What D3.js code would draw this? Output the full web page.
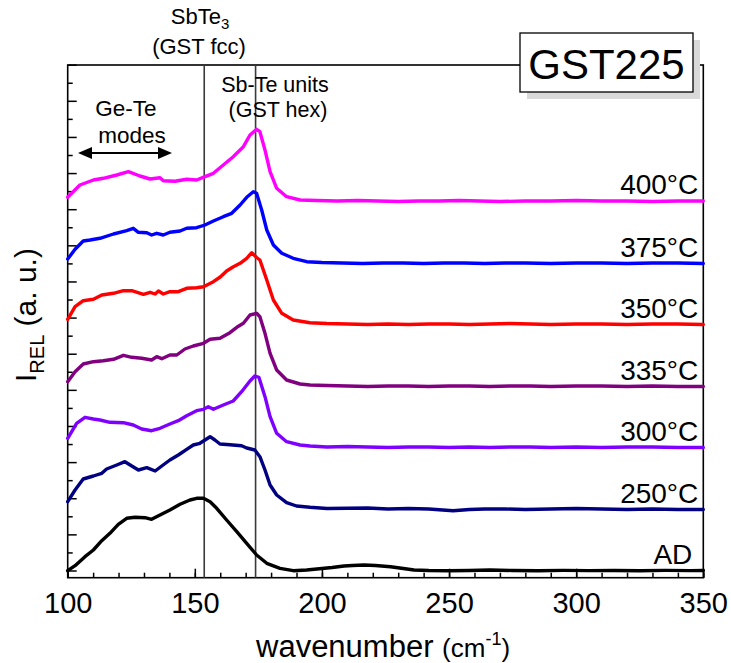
<!DOCTYPE html>
<html><head><meta charset="utf-8">
<script src="https://cdn.jsdelivr.net/npm/d3@7"></script>
<style>body{margin:0;background:#fff}svg{display:block;font-family:"Liberation Sans",Arial,sans-serif}</style>
</head><body><svg id="c" width="731" height="663"></svg>
<script>
// ---- data (relative Raman intensity, arbitrary units, offset per spectrum) ----
const seriesLabels = ["AD","250°C","300°C","335°C","350°C","375°C","400°C"];

const wnAD = [100,102.9,106.8,110.1,113.4,116.6,119.9,123.2,126.5,130.4,133,136.3,140.2,144.2,148.1,150.7,153.4,156,158.6,162.5,166.5,170.4,174.3,178.3,183.5,188.7,194,200,204,208.7,212,216.6,221,227,232,236.2,242,250,258,266,275,285,295,305,315,325,335,345,350];
const iAD  = [0.3,5.3,14.3,21,30.3,37.7,46.7,52.7,53.7,53.3,51.7,56,61,66.7,71,72.7,72.7,69.3,62.7,51,39.3,27.7,16,7.7,2.7,0.3,1,2.5,3.5,5,5.5,6,5.5,4.3,2.5,1,0.5,0.3,0.5,1,0.5,0.3,0.6,0.4,0.5,0.3,0.6,0.4,0.5];

const wn250 = [100,102.9,106.1,110.1,113.4,115.3,119.3,122.5,125.2,127.8,131.1,134.4,137,140.2,143.5,146.8,149.4,152,154,156,157.9,159.9,163.8,168.4,170.4,173.6,175.6,177.6,179.6,182.2,186.1,190,195.3,202,210,218,226,234,242,251.6,258,264,272,280,290,300,310,320,330,340,350];
const i250  = [69.3,81,92,95,97.7,102,106,109.3,105,101,103.3,100,105,111,116,121.7,126,127.7,131,134.3,131,127,126.3,125.3,123,121,114.3,101,86,76,68.3,65,63.7,62.5,62.7,63,62,62.5,62,60.3,61.5,62,62,61.5,62,62.5,62,61.5,62,61.5,61.5];

const wn300 = [100,103.5,106.8,110.1,112.7,116.6,121.9,125.8,129.1,133,136.3,140.2,143.5,146.8,150.7,153.4,155.3,157.3,161.2,165.1,168.4,171.7,173.6,175.2,177.6,179.6,182.2,186.1,191.4,195.3,202,210,218,226,234,242,250,258,266,274,282,290,300,310,320,330,340,350];
const i300  = [132.7,147.7,153.7,152,151,148.7,148.3,146,142,140.3,142.7,147,150.3,155.3,160.3,161.7,164.3,161.7,166,170,179.3,190,195,193.7,174.3,154.3,137.7,129.3,126,125,124,124.5,124,123.5,124,124,123.5,124,123.5,124,124,123.5,124,123.5,124,124,123.5,123.5];

const wn335 = [100,102.9,106.1,110.1,114,118,121.9,125.2,129.1,133,135,137,140.2,142.9,146.1,149.4,153.4,156,159.9,163.8,166.5,169.1,171.7,174.3,175.6,177.6,179.6,182.2,186.1,191.4,195.3,202,210,218,226,234,242,250,258,266,274,282,290,300,310,320,330,340,350];
const i335  = [189.3,199.3,207,209.3,210.3,211.7,215.7,213.7,212.7,211,214.3,212.3,216,216,222,225,227.7,231.7,232.7,238.3,243.7,247.7,256,257.7,254.3,237.7,217.7,201,191,187,186,185.5,185,184.5,185,185,184.5,185,185,184.5,185,185,184.5,185,185,184.5,185,184.5,184.5];

const wn350 = [100,102.9,106.1,110.1,113.4,118,121.9,125.2,129.8,132.4,134.4,135.7,137.6,140.2,143.5,146.8,150.7,153.4,157.3,160,162.5,165,167.8,170.4,172.4,174.3,175.6,178.3,180.9,184.2,188.7,195.3,202,210,218,226,234,242,250,258,266,274,282,290,300,310,320,330,340,350];
const i350  = [251.7,264.3,270.3,271.7,276,277.7,280.3,280.3,276.7,278.7,277,280,277,279.3,279.3,282.7,283.3,284.3,289.3,294,300,304,307.7,312.7,318.3,313.5,311,291,271,257.7,251,248.3,247.5,247,246.5,247,246.5,247,247,246.5,247,247.5,247,246.5,247,247,246.5,247,247,246.5];

const wn375 = [100,102.9,106.1,108.8,112.7,118,123.2,125.8,127.8,131.1,133,135,137.6,140.2,144.2,146.8,150.7,154,157.3,161.2,164.5,167.8,170.4,173,174.3,176.3,178.3,180.9,184.2,188.7,194,200,208,216,224,232,240,248,256,264,272,280,290,300,310,320,330,340,350];
const i375  = [312,321.7,330,331,332.7,337,340.3,342.7,338.7,338.3,336,337.7,336,338.7,340,342.7,343.3,346,350,354.3,357.7,366,373.7,379.3,377.7,361,341,326,317.7,312.7,309.3,308.5,308,307.5,308,308,307.5,308,308,307.5,308,308,307.5,308,308,307.5,308,308,307.5];

const wn400 = [100,104.8,110.1,114,119.3,123.9,128.4,132.4,136.3,137.6,142.2,146.8,150.7,154,157.3,161.2,165.1,169.1,171.7,174.3,175.6,177.6,179.6,182.2,186.1,191.4,198,206,214,222,230,238,246,254,262,270,280,290,300,310,320,330,340,350];
const i400  = [373.7,386,391,392.7,396,399.3,395,392,393.3,390.3,389.7,391.7,391,394.3,397.7,406,414.3,424.3,436,441.7,439.3,421,399.3,382.7,374.3,371,370.5,370,370.5,370,369.5,370,370,370.5,370,369.5,370,370,370.5,370,370,369.5,370,370];

const xTickLabels = [100,150,200,250,300,350];
const refLines = [153.7, 173.9];   // SbTe3 (GST fcc) and Sb-Te units (GST hex)

// ---- styles ----
const seriesColors = ["#000000","#000080","#8000ff","#800080","#ff0000","#0000ff","#ff00ff"];

const wnList = [wnAD, wn250, wn300, wn335, wn350, wn375, wn400];
const iList  = [iAD, i250, i300, i335, i350, i375, i400];
const series = seriesLabels.map((lab, k) => ({
  label: lab, color: seriesColors[k],
  pts: wnList[k].map((w, j) => [w, iList[k][j]])
}));

const svg = d3.select("#c");
const L = 67.7, R = 703.3, T = 65, B = 577.7;
const x = d3.scaleLinear().domain([100, 350]).range([L, R]);
const y = d3.scaleLinear().domain([-6.7, 506]).range([B, T]);
const yStep = 18.065;

// frame
svg.append("rect").attr("x", L).attr("y", T).attr("width", R - L).attr("height", B - T)
  .attr("fill", "none").attr("stroke", "#000").attr("stroke-width", 1.6);

// x ticks (inward)
const minorAx = d3.axisBottom(x).tickValues(d3.range(100, 351, 10)).tickSize(-5).tickFormat("");
const gMin = svg.append("g").attr("transform", `translate(0,${B})`).call(minorAx);
gMin.select(".domain").remove();
gMin.selectAll("line").attr("stroke-width", 1.5);
const majorAx = d3.axisBottom(x).tickValues(xTickLabels).tickSize(-9).tickPadding(15);
const gMaj = svg.append("g").attr("transform", `translate(0,${B})`).call(majorAx);
gMaj.select(".domain").remove();
gMaj.selectAll("line").attr("stroke-width", 1.5);
gMaj.selectAll("text").attr("font-size", 29).attr("font-family", '"Liberation Sans",Arial,sans-serif').attr("fill", "#000");

// y ticks (inward, alternating long/short)
const yTicks = d3.range(0, 29).map(k => k * yStep);
svg.append("g").selectAll("line").data(yTicks).join("line")
  .attr("x1", L).attr("x2", (d, i) => L + (i % 2 === 0 ? 9 : 5))
  .attr("y1", d => y(d)).attr("y2", d => y(d))
  .attr("stroke", "#000").attr("stroke-width", 1.5);

// reference vertical lines
svg.append("g").selectAll("line").data(refLines).join("line")
  .attr("x1", d => x(d)).attr("x2", d => x(d)).attr("y1", T).attr("y2", B)
  .attr("stroke", "#3a3a3a").attr("stroke-width", 1.6);

// spectra
const line = d3.line().x(d => x(d[0])).y(d => y(d[1]));
svg.append("g").selectAll("path").data(series).join("path")
  .attr("d", d => line(d.pts)).attr("fill", "none")
  .attr("stroke", d => d.color).attr("stroke-width", 3.4)
  .attr("stroke-linejoin", "round").attr("stroke-linecap", "round");

// series labels
svg.append("g").selectAll("text").data(series).join("text")
  .attr("x", d => d.label === "AD" ? R - 11 : R - 5)
  .attr("y", d => y(d.pts[d.pts.length - 1][1]) - 7)
  .attr("text-anchor", "end").attr("font-size", 28).text(d => d.label);

// GST225 box
svg.append("rect").attr("x", 527).attr("y", 40).attr("width", 173).attr("height", 59).attr("fill", "#d9d9d9");
svg.append("rect").attr("x", 520).attr("y", 33).attr("width", 173).attr("height", 59)
  .attr("fill", "#fff").attr("stroke", "#000").attr("stroke-width", 1.3);
svg.append("text").attr("x", 606.5).attr("y", 79).attr("text-anchor", "middle")
  .attr("font-size", 42).text("GST225");

// annotations
const a1 = svg.append("text").attr("x", 200).attr("y", 24).attr("text-anchor", "middle").attr("font-size", 22);
a1.append("tspan").text("SbTe");
a1.append("tspan").attr("dy", 5).attr("font-size", 15).text("3");
svg.append("text").attr("x", 199).attr("y", 54).attr("text-anchor", "middle").attr("font-size", 22).text("(GST fcc)");
svg.append("text").attr("x", 275).attr("y", 92).attr("text-anchor", "middle").attr("font-size", 21.5).text("Sb-Te units");
svg.append("text").attr("x", 278).attr("y", 117).attr("text-anchor", "middle").attr("font-size", 21.5).text("(GST hex)");
svg.append("text").attr("x", 126).attr("y", 116).attr("text-anchor", "middle").attr("font-size", 22.5).text("Ge-Te");
svg.append("text").attr("x", 132).attr("y", 143).attr("text-anchor", "middle").attr("font-size", 22.5).text("modes");

// double arrow
const ay = 153, ax1 = 78, ax2 = 172;
svg.append("line").attr("x1", ax1 + 8).attr("x2", ax2 - 8).attr("y1", ay).attr("y2", ay)
  .attr("stroke", "#000").attr("stroke-width", 2);
svg.append("path").attr("d", `M${ax1},${ay}L${ax1 + 14},${ay - 6}L${ax1 + 14},${ay + 6}Z`).attr("fill", "#000");
svg.append("path").attr("d", `M${ax2},${ay}L${ax2 - 14},${ay - 6}L${ax2 - 14},${ay + 6}Z`).attr("fill", "#000");

// axis titles
const xt = svg.append("text").attr("x", 256).attr("y", 657).attr("font-size", 31);
xt.append("tspan").text("wavenumber ");
xt.append("tspan").attr("font-size", 26).text("(cm");
xt.append("tspan").attr("font-size", 18).attr("dy", -12).text("-1");
xt.append("tspan").attr("font-size", 26).attr("dy", 12).text(")");

const yt = svg.append("text").attr("transform", "translate(35.5,382) rotate(-90)").attr("font-size", 30);
yt.append("tspan").text("I");
yt.append("tspan").attr("font-size", 20).attr("dy", 8).text("REL");
yt.append("tspan").attr("dy", -8).text(" (a. u.)");
</script></body></html>
